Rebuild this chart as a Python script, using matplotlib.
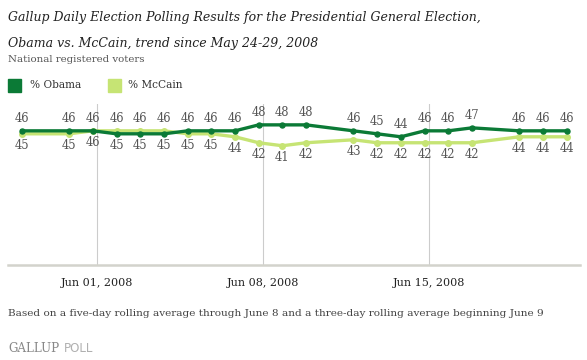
import matplotlib
matplotlib.use("Agg")
import matplotlib.pyplot as plt
import matplotlib.dates as mdates
import numpy as np
import datetime as dt

# data
dates = ["2008-05-29", "2008-05-31", "2008-06-01", "2008-06-02", "2008-06-03",
         "2008-06-04", "2008-06-05", "2008-06-06", "2008-06-07", "2008-06-08",
         "2008-06-09", "2008-06-10", "2008-06-12", "2008-06-13", "2008-06-14",
         "2008-06-15", "2008-06-16", "2008-06-17", "2008-06-19", "2008-06-20",
         "2008-06-21"]
obama = [46, 46, 46, 45, 45, 45, 46, 46, 46, 48, 48, 48, 46, 45, 44, 46, 46, 47, 46, 46, 46]
mccain = [45, 45, 46, 46, 46, 46, 45, 45, 44, 42, 41, 42, 43, 42, 42, 42, 42, 42, 44, 44, 44]
tick_dates = ["2008-06-01", "2008-06-08", "2008-06-15"]
tick_labels = ["Jun 01, 2008", "Jun 08, 2008", "Jun 15, 2008"]

OBAMA_C = "#0b7a36"
MCCAIN_C = "#c6e474"
W, H = 587, 360

def fx(x):
    return x / W

def fy(y):
    return 1 - y / H

x = mdates.date2num([dt.datetime.strptime(d, "%Y-%m-%d") for d in dates])
xt = mdates.date2num([dt.datetime.strptime(d, "%Y-%m-%d") for d in tick_dates]) + 0.17

fig = plt.figure(figsize=(W / 100, H / 100), dpi=100)
ax = fig.add_axes([fx(8), fy(265), fx(580) - fx(8), fy(104) - fy(265)])

ax.plot(x, mccain, color=MCCAIN_C, lw=2.4, marker="o", ms=4, zorder=3)
ax.plot(x, obama, color=OBAMA_C, lw=2.4, marker="o", ms=3.6, zorder=4)

for xi, o, m in zip(x, obama, mccain):
    ax.annotate(str(max(o, m)), (xi, max(o, m)), xytext=(0, 12), textcoords="offset pixels",
                ha="center", va="center", fontsize=8.3, color="#555555", family="DejaVu Serif")
    ax.annotate(str(min(o, m)), (xi, min(o, m)), xytext=(0, -12), textcoords="offset pixels",
                ha="center", va="center", fontsize=8.3, color="#555555", family="DejaVu Serif")

ax.set_xlim(x[0] - 0.58, x[-1] + 0.56)
ax.set_ylim(1, 55)
for t in xt:
    ax.axvline(t, color="#cccccc", lw=0.8, zorder=1)
ax.set_xticks(xt)
ax.set_xticklabels(tick_labels, family="DejaVu Serif", fontsize=8, color="#222222")
ax.tick_params(axis="x", length=0, pad=9)
ax.set_yticks([])
for s in ["top", "left", "right"]:
    ax.spines[s].set_visible(False)
ax.spines["bottom"].set_color("#d3d3cc")
ax.spines["bottom"].set_linewidth(1.8)

fig.text(fx(8), fy(17), "Gallup Daily Election Polling Results for the Presidential General Election,",
         family="DejaVu Serif", style="italic", fontsize=9.0, color="#222222", va="center")
fig.text(fx(8), fy(43), "Obama vs. McCain, trend since May 24-29, 2008",
         family="DejaVu Serif", style="italic", fontsize=9.0, color="#222222", va="center")
fig.text(fx(8), fy(60), "National registered voters", family="DejaVu Serif",
         fontsize=7.4, color="#555555", va="center")

fig.patches.append(plt.Rectangle((fx(8), fy(92)), fx(13), 13 / H, transform=fig.transFigure,
                                 color=OBAMA_C, figure=fig))
fig.text(fx(30), fy(85), "% Obama", family="DejaVu Serif", fontsize=7.6, color="#333333", va="center")
fig.patches.append(plt.Rectangle((fx(108), fy(92)), fx(13), 13 / H, transform=fig.transFigure,
                                 color=MCCAIN_C, figure=fig))
fig.text(fx(128), fy(85), "% McCain", family="DejaVu Serif", fontsize=7.6, color="#333333", va="center")

fig.text(fx(8), fy(314), "Based on a five-day rolling average through June 8 and a three-day rolling average beginning June 9",
         family="DejaVu Serif", fontsize=7.55, color="#444444", va="center")
fig.text(fx(8), fy(348), "GALLUP", family="DejaVu Serif", fontsize=8.6, color="#888888", va="center")
fig.text(fx(64), fy(348), "POLL", family="DejaVu Sans", fontsize=8.6, color="#b0b0b0", va="center")

fig.savefig("out.png", dpi=100)
